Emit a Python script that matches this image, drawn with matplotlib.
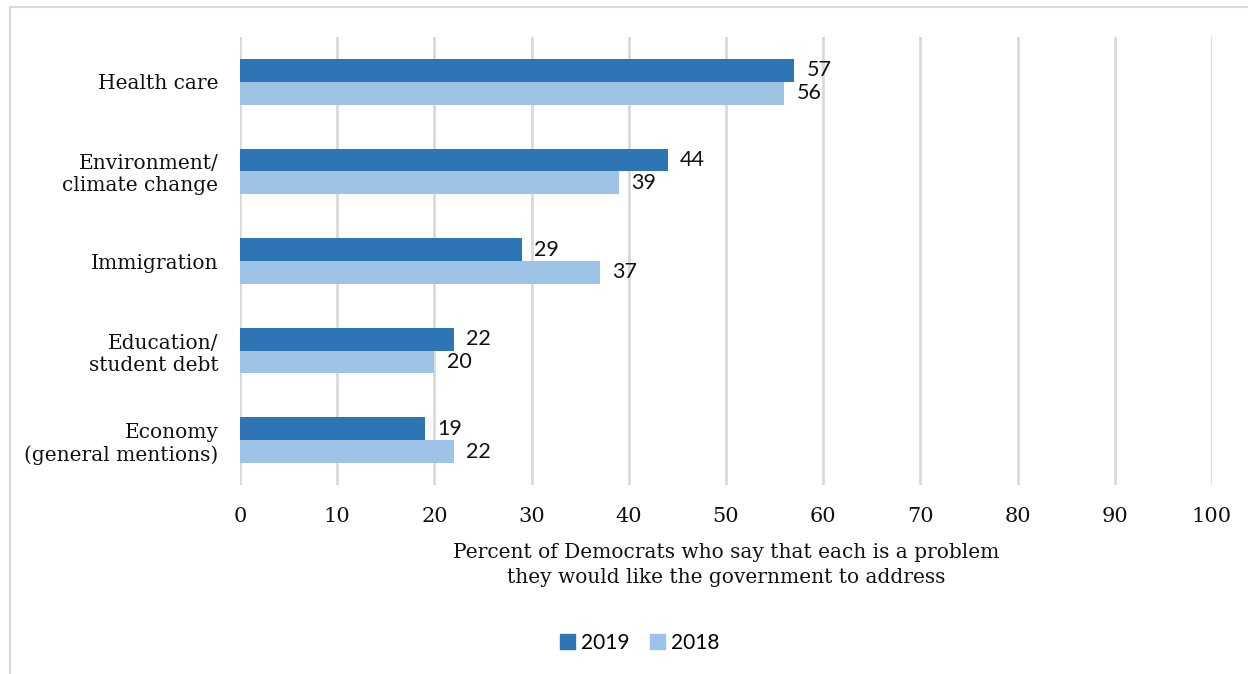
import matplotlib
matplotlib.use("Agg")
import matplotlib.pyplot as plt
from matplotlib.patches import Rectangle, Patch
import numpy as np

categories = ["Health care", "Environment/\nclimate change", "Immigration",
              "Education/\nstudent debt", "Economy\n(general mentions)"]
values_2019 = [57, 44, 29, 22, 19]
values_2018 = [56, 39, 37, 20, 22]
series_names = ["2019", "2018"]
xticks = [0, 10, 20, 30, 40, 50, 60, 70, 80, 90, 100]
xlabel = "Percent of Democrats who say that each is a problem\nthey would like the government to address"

c19 = "#2E75B6"
c18 = "#9DC3E6"
serif = ["DejaVu Serif"]
sans = ["Lato", "DejaVu Sans"]

W, H = 1248, 674
fig = plt.figure(figsize=(W / 100, H / 100), dpi=100)
ax = fig.add_axes([240 / W, 1 - 485 / H, (1212 - 240) / W, (485 - 37) / H])

y = np.arange(len(categories))
bh = 0.255
ax.barh(y - bh / 2, values_2019, height=bh, color=c19, label=series_names[0], zorder=3)
ax.barh(y + bh / 2, values_2018, height=bh, color=c18, label=series_names[1], zorder=3)

for yi, v in zip(y, values_2019):
    ax.annotate(str(v), (v, yi - bh / 2), xytext=(9, 0), textcoords="offset points",
                va="center", ha="left", fontsize=15.5, family=sans, color="#111111")
for yi, v in zip(y, values_2018):
    ax.annotate(str(v), (v, yi + bh / 2), xytext=(9, 0), textcoords="offset points",
                va="center", ha="left", fontsize=15.5, family=sans, color="#111111")

ax.set_xlim(0, 100)
ax.set_ylim(len(categories) - 0.5, -0.5)
ax.set_xticks(xticks)
ax.set_xticklabels([str(t) for t in xticks], family=serif, fontsize=15)
ax.set_yticks(y)
ax.set_yticklabels(categories, family=serif, fontsize=14.5, linespacing=1.2)
ax.tick_params(axis="both", length=0, colors="#111111")
ax.tick_params(axis="y", pad=15.5)
ax.tick_params(axis="x", pad=16)
ax.grid(axis="x", color="#D9D9D9", linewidth=2, zorder=0)
for s in ax.spines.values():
    s.set_visible(False)

ax.set_xlabel(xlabel, family=serif, fontsize=14.5, labelpad=12, linespacing=1.4, color="#111111")

handles = [Patch(color=c19), Patch(color=c18)]
fig.legend(handles, series_names, loc="center", bbox_to_anchor=(640 / W, 1 - 643 / H),
           ncol=2, frameon=False, prop={"family": sans, "size": 15},
           handlelength=0.7, handleheight=0.7, handletextpad=0.3, columnspacing=1.0)

fig.patches.append(Rectangle((10 / W, -0.01), 1.1, 1 - 7 / H + 0.01, transform=fig.transFigure,
                             fill=False, edgecolor="#D9D9D9", linewidth=1.5))

fig.savefig("out.png", dpi=100, facecolor="white")
